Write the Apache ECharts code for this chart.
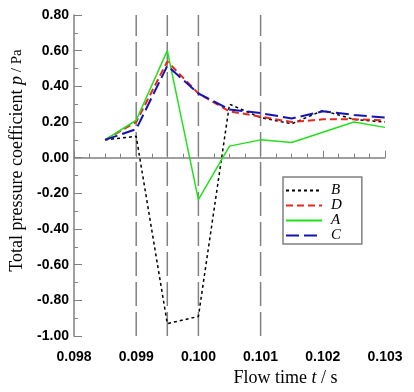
<!DOCTYPE html>
<html><head><meta charset="utf-8">
<script src="https://cdn.jsdelivr.net/npm/echarts@6/dist/echarts.min.js"></script>
<style>html,body{margin:0;padding:0;background:#fff}#c{width:414px;height:392px}</style>
</head><body><div id="c"></div>
<script>
const times = [0.0985, 0.099, 0.0995, 0.100, 0.1005, 0.101, 0.1015, 0.102, 0.1025, 0.103];
const seriesB = [0.10, 0.12, -0.93, -0.89, 0.30, 0.225, 0.19, 0.265, 0.215, 0.20];
const seriesD = [0.10, 0.20, 0.54, 0.36, 0.26, 0.23, 0.20, 0.215, 0.215, 0.21];
const seriesA = [0.10, 0.21, 0.60, -0.235, 0.065, 0.10, 0.085, 0.143, 0.20, 0.17];
const seriesC = [0.10, 0.16, 0.515, 0.36, 0.27, 0.25, 0.22, 0.26, 0.24, 0.225];
const markTimes = [0.099, 0.0995, 0.100, 0.101];
const legendNames = ['B', 'D', 'A', 'C'];
const yMin = -1, yMax = 0.8;

const chart = echarts.init(document.getElementById('c'));
const pair = arr => times.map((t, i) => [t, arr[i]]);
const axisColor = '#808080';
function mk(name, data, color, type, width) {
  return {
    name, type: 'line', data: pair(data), symbol: 'none', showSymbol: false, animation: false, z: 3,
    lineStyle: { color, type, width }, itemStyle: { color }
  };
}
const vlines = markTimes.map((t, i) => ({
  name: 'v' + i, type: 'line', data: [[t, yMin], [t, yMax]], symbol: 'none', silent: true, z: 1,
  lineStyle: { color: '#808080', type: [24, 6], width: 1.5 }
}));
chart.setOption({
  animation: false,
  grid: { left: 74, right: 29, top: 15, bottom: 54 },
  legend: {
    data: legendNames, orient: 'vertical', left: 283, top: 177,
    itemWidth: 36, itemHeight: 8, itemGap: 0,
    itemStyle: { opacity: 0 },
    borderColor: '#808080', borderWidth: 1.5, padding: [6, 20, 1, 2],
    textStyle: { fontFamily: 'Liberation Serif', fontStyle: 'italic', fontSize: 15, lineHeight: 14, color: '#000', padding: [0, 0, 0, 4] }
  },
  xAxis: {
    type: 'value', min: 0.098, max: 0.103, interval: 0.001,
    axisLine: { lineStyle: { color: axisColor, width: 1.5 } },
    axisTick: { inside: true, length: 7, lineStyle: { color: axisColor } },
    minorTick: { show: true, splitNumber: 4, length: 4, lineStyle: { color: axisColor } },
    splitLine: { show: false },
    axisLabel: { formatter: v => v.toFixed(3), margin: 14, fontFamily: 'Liberation Sans', fontSize: 14, fontWeight: 'bold', color: '#000' },
    name: '{a|Flow time }{i|t}{a| / s}', nameLocation: 'middle', nameGap: 31,
    nameTextStyle: { padding: [0, 0, 0, 112], rich: {
      a: { fontFamily: 'Liberation Serif', fontSize: 18, color: '#000' },
      i: { fontFamily: 'Liberation Serif', fontStyle: 'italic', fontSize: 18, color: '#000' } } }
  },
  yAxis: {
    type: 'value', min: yMin, max: yMax, interval: 0.2,
    axisLine: { show: true, lineStyle: { color: axisColor, width: 1.5 } },
    axisTick: { show: true, inside: true, length: 8, lineStyle: { color: axisColor } },
    minorTick: { show: true, splitNumber: 2, length: 4, lineStyle: { color: axisColor } },
    splitLine: { show: false },
    axisLabel: { formatter: v => v.toFixed(2), margin: 5, fontFamily: 'Liberation Sans', fontSize: 14, fontWeight: 'bold', color: '#000' },
    name: '{a|Total pressure coefficient }{i|p}{s| / Pa}', nameLocation: 'middle', nameGap: 42,
    nameTextStyle: { padding: [0, 0, 0, 30], rich: {
      a: { fontFamily: 'Liberation Serif', fontSize: 18, color: '#000' },
      i: { fontFamily: 'Liberation Serif', fontStyle: 'italic', fontSize: 18, color: '#000' },
      s: { fontFamily: 'Liberation Serif', fontSize: 15, color: '#000' } } }
  },
  series: vlines.concat([
    mk('B', seriesB, '#000000', [3, 3], 1.5),
    mk('D', seriesD, '#e8281e', [7, 4], 2),
    mk('A', seriesA, '#22e01c', 'solid', 1.5),
    mk('C', seriesC, '#1414b4', [13, 5], 2)
  ])
});
</script></body></html>
